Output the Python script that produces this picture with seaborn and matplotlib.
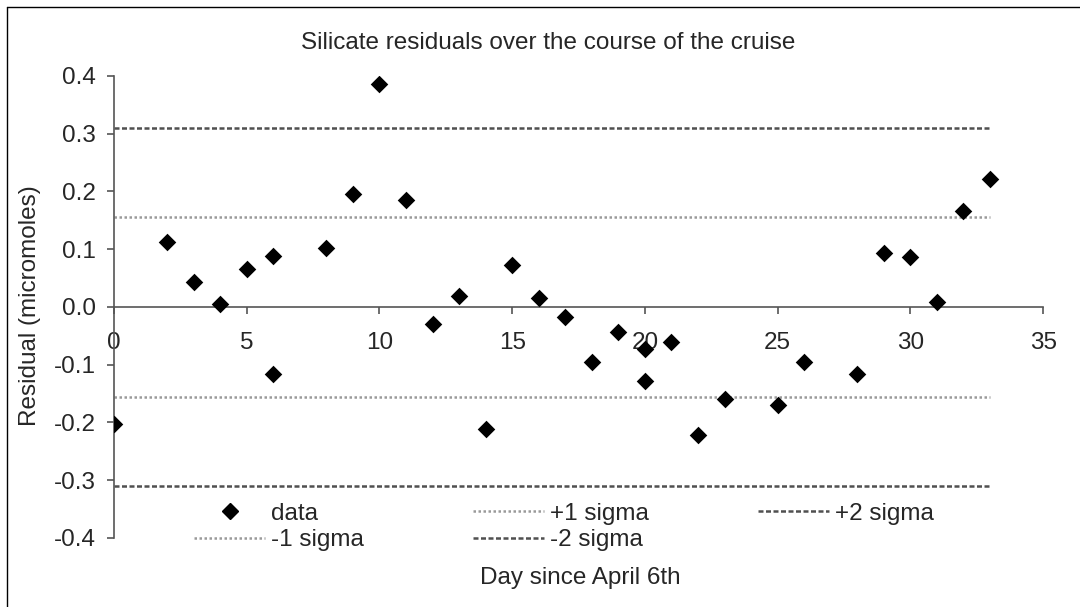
import matplotlib
matplotlib.use("Agg")
import matplotlib.pyplot as plt
import seaborn as sns
import pandas as pd
from matplotlib.lines import Line2D

# --- data ---
days = [0, 2, 3, 4, 5, 6, 6, 8, 9, 10, 11, 12, 13, 14, 15, 16, 17, 18, 19, 20,
        20, 21, 22, 23, 25, 26, 28, 29, 30, 31, 32, 33]
residuals = [-0.202, 0.113, 0.043, 0.006, 0.066, 0.088, -0.116, 0.102, 0.195, 0.387,
             0.185, -0.029, 0.019, -0.212, 0.072, 0.016, -0.017, -0.096, -0.043, -0.072,
             -0.129, -0.060, -0.222, -0.159, -0.169, -0.096, -0.116, 0.093, 0.086, 0.009,
             0.166, 0.221]
sigma = 0.155
sigma_labels = ["+1 sigma", "+2 sigma", "-1 sigma", "-2 sigma"]
sigma_mult = [1, 2, -1, -2]
x_ticks = [0, 5, 10, 15, 20, 25, 30, 35]
y_ticks = [-0.4, -0.3, -0.2, -0.1, 0.0, 0.1, 0.2, 0.3, 0.4]

df = pd.DataFrame({"day": days, "residual": residuals})

sns.set_theme(style="white")
plt.rcParams["font.family"] = ["Liberation Sans", "DejaVu Sans"]
FS = 17.5

fig = plt.figure(figsize=(10.8, 6.07), dpi=100)
ax = fig.add_axes([0.1056, 0.1137, 0.8602, 0.7611])

# sigma lines spanning the range of the data
line_style = {1: dict(color="#9a9a9a", ls=(0, (1, 1))),
              -1: dict(color="#9a9a9a", ls=(0, (1, 1))),
              2: dict(color="#505050", ls=(0, (2, 1))),
              -2: dict(color="#505050", ls=(0, (2, 1)))}
handles = {}
for lab, m in zip(sigma_labels, sigma_mult):
    st = line_style[m]
    sdf = pd.DataFrame({"day": [min(days), max(days)], "v": [m * sigma, m * sigma]})
    sns.lineplot(data=sdf, x="day", y="v", ax=ax, color=st["color"], lw=1.8,
                 linestyle=st["ls"], legend=False)
    handles[lab] = Line2D([], [], color=st["color"], lw=1.8, linestyle=st["ls"])

sns.scatterplot(data=df, x="day", y="residual", ax=ax, marker="D", s=80,
                color="black", edgecolor="black", linewidth=0, zorder=5, legend=False)
handles["data"] = Line2D([], [], color="black", marker="D", ls="none", markersize=8)

ax.set_xlim(0, 35)
ax.set_ylim(-0.4, 0.4)
ax.set_xticks(x_ticks)
ax.set_yticks(y_ticks)
ax.set_yticklabels([f"{v:.1f}" for v in y_ticks])
ax.set_xlabel("")
ax.set_ylabel("")

for s in ["top", "right"]:
    ax.spines[s].set_visible(False)
ax.spines["bottom"].set_position(("data", 0))
for s in ["left", "bottom"]:
    ax.spines[s].set_color("#555555")
    ax.spines[s].set_linewidth(1.2)
ax.tick_params(axis="x", direction="out", length=5, width=1.2, color="#555555",
               pad=13, labelsize=FS, bottom=True)
ax.tick_params(axis="y", direction="out", length=5, width=1.2, color="#555555",
               pad=8, labelsize=FS, left=True)

order = ["data", "-1 sigma", "+1 sigma", "-2 sigma", "+2 sigma"]
ax.legend([handles[k] for k in order], order, loc="upper left",
          bbox_to_anchor=(0.180, 0.172), bbox_transform=fig.transFigure,
          ncol=3, frameon=False, fontsize=FS, handlelength=2.9, handletextpad=0.25,
          columnspacing=4.5, labelspacing=0.2, borderaxespad=0, borderpad=0)

fig.text(0.508, 0.929, "Silicate residuals over the course of the cruise",
         ha="center", va="center", fontsize=FS)
fig.text(0.537, 0.047, "Day since April 6th", ha="center", va="center", fontsize=FS)
fig.text(0.028, 0.497, "Residual (micromoles)", ha="center", va="center",
         rotation=90, fontsize=FS)

# outer chart border (left and top edges visible in the reference)
fig.add_artist(Line2D([0.0065, 0.0065], [0, 0.988], transform=fig.transFigure,
                      color="black", lw=1))
fig.add_artist(Line2D([0.0065, 1.0], [0.988, 0.988], transform=fig.transFigure,
                      color="black", lw=1))

fig.savefig("out.png", dpi=100)
